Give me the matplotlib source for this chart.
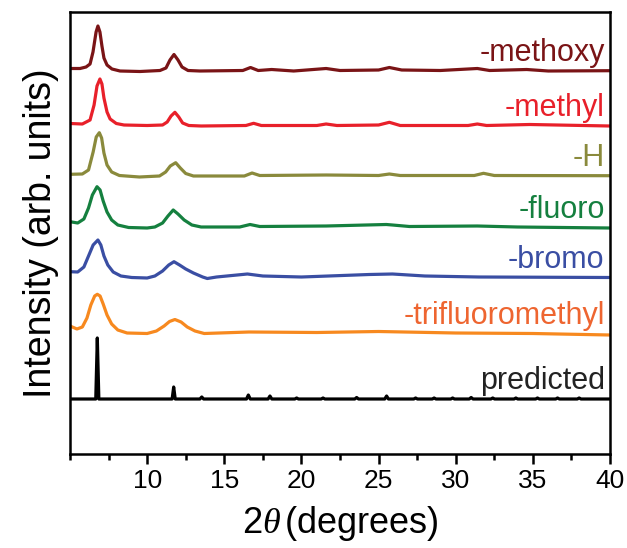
import matplotlib
matplotlib.use("Agg")
import matplotlib.pyplot as plt
from matplotlib.ticker import MultipleLocator

plt.rcParams['font.family'] = ['Liberation Sans', 'DejaVu Sans']
plt.rcParams['mathtext.fontset'] = 'custom'
plt.rcParams['mathtext.it'] = 'Liberation Serif:italic'
plt.rcParams['mathtext.rm'] = 'Liberation Sans'

# XRD patterns: 2theta (deg) and intensity above each trace's baseline (arb.)
methoxy_x = [5.0, 5.65, 6.04, 6.30, 6.49, 6.69, 6.81, 6.94, 7.07, 7.20, 7.40, 7.72, 8.24, 9.54,
             10.83, 11.22, 11.48, 11.74, 12.0, 12.26, 12.65, 13.42, 16.2, 16.7, 17.2, 18.07,
             19.5, 21.6, 22.5, 25.0, 25.7, 26.5, 29.0, 31.4, 32.2, 34.6, 36.0, 40.0]
methoxy_y = [2.5, 2.5, 4, 7, 19, 39, 45, 39, 25, 13, 6, 2, 0, -0.5,
             0.5, 3, 11, 16.5, 11, 4, 0.5, 0, 0.5, 3.5, 0.5, 1.5,
             0, 2.5, 0.5, 1, 3.5, 1, 0.5, 2.5, 0.5, 1.5, 0, 0.3]

methyl_x = [5.0, 5.8, 6.3, 6.56, 6.75, 6.94, 7.07, 7.2, 7.4, 7.6, 8.0, 8.5, 10.0,
            11.0, 11.3, 11.55, 11.8, 12.05, 12.3, 12.7, 13.5, 16.4, 16.9, 17.4, 21.0,
            21.6, 22.3, 25.0, 25.7, 26.4, 30.8, 31.4, 32.0, 34.8, 40.0]
methyl_y = [2.5, 2, 6, 21, 40, 47, 42, 28, 14, 7, 2.5, 1, 0.5,
            1, 4, 10, 13.7, 9, 3, 0.5, 0, 0.5, 2.7, 0.5, 0.5,
            2, 0.5, 1, 3.7, 0.5, 0.5, 2, 0.5, 1.5, 0]

h_x = [5.0, 5.8, 6.2, 6.5, 6.7, 6.9, 7.05, 7.2, 7.4, 7.7, 8.2, 9.5, 10.8,
       11.2, 11.5, 11.85, 12.15, 12.5, 13.0, 16.3, 16.8, 17.3, 21.6, 25.0,
       25.7, 26.4, 31.2, 31.8, 32.5, 40.0]
h_y = [1.7, 2, 6, 24, 39, 43.3, 38, 23, 11, 4, 0.5, -1, 0,
       4, 10, 13.3, 8, 2.5, 0, 0, 3, 0.5, 1, 0.5,
       2, 0.5, 0.5, 2.7, 0.5, 0.3]

fluoro_x = [5.0, 5.5, 5.9, 6.2, 6.45, 6.75, 6.95, 7.15, 7.4, 7.7, 8.1, 8.8, 10.0,
            10.5, 11.0, 11.35, 11.69, 12.0, 12.4, 12.9, 13.5, 16.0, 16.67, 17.3,
            21.6, 25.5, 25.9, 27.0, 31.4, 34.0, 40.0]
fluoro_y = [6.3, 5, 9, 20, 33, 41.3, 38, 27, 16, 8, 3, 0.5, 0,
            1, 5, 12, 18, 14, 8, 3, 1, 1, 3.5, 1.5,
            2, 3.5, 3, 1.5, 2, 1, 0]

bromo_x = [5.0, 5.5, 5.9, 6.2, 6.5, 6.81, 7.0, 7.2, 7.45, 7.8, 8.3, 9.0, 10.0,
           10.5, 11.0, 11.4, 11.74, 12.1, 12.5, 13.0, 13.6, 13.9, 14.5, 16.5,
           17.5, 20.0, 24.4, 25.9, 28.0, 31.5, 40.0]
bromo_y = [6.3, 6, 11, 22, 33, 38, 33, 22, 13, 6, 2, 0.5, 0,
           2, 7, 13, 16.3, 13, 9, 5, 1, -0.5, 1, 4,
           2, 1, 3.5, 4, 2, 1, 0.5]

trifluoro_x = [5.0, 5.45, 5.8, 6.1, 6.35, 6.6, 6.77, 6.95, 7.15, 7.4, 7.7, 8.1, 8.7, 10.0,
               10.6, 11.1, 11.45, 11.8, 12.2, 12.6, 13.1, 13.7, 16.6, 21.0, 25.0,
               30.0, 35.0, 40.0]
trifluoro_y = [8, 5, 7, 16, 29, 38, 39.7, 38, 30, 19, 10, 4, 1, 0.5,
               3, 8, 12.5, 14.5, 12, 7, 3, 0.5, 2, 1.5, 2.5,
               1, 0.5, -1]

# predicted pattern: reflection positions and heights
pred_pos = [6.77, 11.72, 13.54, 16.56, 17.96, 19.69, 21.40, 23.58, 25.52,
            27.4, 28.6, 29.8, 31.0, 32.4, 33.9, 35.3, 36.6, 38.0]
pred_int = [61, 12, 2, 4, 3, 1, 1, 1.5, 3,
            1, 1, 1, 1.5, 1, 1, 1, 1, 1]

names = ['-methoxy', '-methyl', '-H', '-fluoro', '-bromo', '-trifluoromethyl', 'predicted']
offsets = [383, 328, 278, 226, 176, 120, 55]
line_colors = ['#7a1416', '#e8202a', '#8a8a3c', '#15803f', '#3a4ea3', '#f7891f', '#000000']
text_colors = ['#7a1416', '#e8202a', '#8a8a3c', '#15803f', '#3a4ea3', '#ee6530', '#222222']

# build the stick pattern as narrow triangles
pred_x = [5.0]
pred_y = [0]
for p, v in zip(pred_pos, pred_int):
    w = 0.1 if v > 5 else 0.12
    pred_x += [p - w, p, p + w]
    pred_y += [0, v, 0]
pred_x.append(40.0)
pred_y.append(0)

traces = [(methoxy_x, methoxy_y), (methyl_x, methyl_y), (h_x, h_y), (fluoro_x, fluoro_y),
          (bromo_x, bromo_y), (trifluoro_x, trifluoro_y), (pred_x, pred_y)]

fig = plt.figure(figsize=(6.27, 5.48), dpi=100)
ax = fig.add_axes([70 / 627, 94 / 548, 540 / 627, 442 / 548])

for (xs, ys), off, lc, tc, name in zip(traces, offsets, line_colors, text_colors, names):
    ax.plot(xs, [y + off for y in ys], color=lc, lw=2.3, solid_joinstyle='round')
    ax.text(39.65, off + 10, name, color=tc, fontsize=22, ha='right', va='baseline')

ax.set_xlim(5, 40)
ax.set_ylim(0, 442)
ax.xaxis.set_major_locator(MultipleLocator(5))
ax.xaxis.set_minor_locator(MultipleLocator(2.5))
ax.set_xticks([10, 15, 20, 25, 30, 35, 40])
ax.set_yticks([])
ax.tick_params(axis='x', which='major', direction='out', length=7, width=1.8, labelsize=19, pad=4)
ax.tick_params(axis='x', which='minor', direction='out', length=4.5, width=1.8)
for s in ax.spines.values():
    s.set_linewidth(1.8)

ax.set_xlabel(r'2$\mathit{\theta}\,$(degrees)', fontsize=26, labelpad=8)
ax.set_ylabel('Intensity (arb. units)', fontsize=27, labelpad=8)

fig.savefig('out.png', dpi=100)
